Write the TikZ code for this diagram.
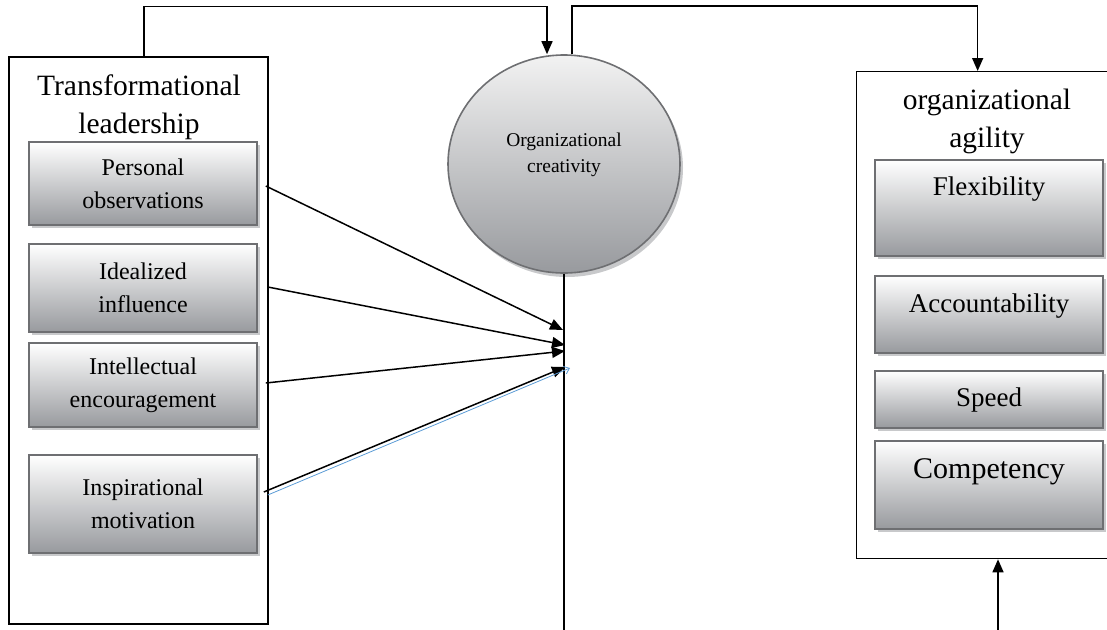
\documentclass[tikz,border=0pt]{standalone}
\usepackage{fontspec}
\setmainfont{Liberation Serif}
\usetikzlibrary{arrows.meta,shapes.geometric,shadows}

\definecolor{boxline}{RGB}{110,111,114}
\definecolor{boxbot}{RGB}{152,154,158}
\definecolor{circtop}{RGB}{242,242,242}
\definecolor{shad}{RGB}{200,201,203}
\definecolor{bluel}{RGB}{91,155,213}

\begin{document}
\begin{tikzpicture}[x=1pt,y=-1pt,
  outerbox/.style={draw=black,line width=1.3pt,inner sep=0pt},
  subbox/.style={draw=boxline,line width=1.6pt,top color=white,bottom color=boxbot,
    inner sep=0pt,minimum width=228pt,
    drop shadow={shadow xshift=3pt,shadow yshift=-3pt,fill=shad,opacity=1}},
  lefttext/.style={font=\fontsize{24}{33}\selectfont,align=center},
  titletext/.style={font=\fontsize{29.5}{38}\selectfont,align=center,inner sep=0pt,anchor=north},
  conn/.style={draw=black,line width=1.5pt},
  tip/.style={-{Triangle[length=13pt,width=11pt]}},
]
\useasboundingbox (0,0) rectangle (1107,629);
\clip (0,0) rectangle (1107,629);

% left group
\node[outerbox,minimum width=259pt,minimum height=567pt] (tl) at (138.5,340.5) {};
\node[titletext] (tlt) at (139,75) {Transformational\\leadership};
\node[subbox,lefttext,minimum height=83pt] (po) at (143,183.5) {Personal\\observations};
\node[subbox,lefttext,minimum height=88pt] (ii) at (143,288) {Idealized\\influence};
\node[subbox,lefttext,minimum height=84pt] (ie) at (143,385) {Intellectual\\encouragement};
\node[subbox,lefttext,minimum height=98pt] (im) at (143,504) {Inspirational\\motivation};

% circle
\node[ellipse,draw=boxline,line width=1.6pt,top color=circtop,bottom color=boxbot,
  minimum width=232pt,minimum height=218pt,inner sep=0pt,
  drop shadow={shadow xshift=3pt,shadow yshift=-4pt,fill=shad,opacity=1},
  label={[font=\fontsize{19.5}{26}\selectfont,align=center,yshift=9pt]center:Organizational\\creativity}]
  (oc) at (564,164) {};

% right group
\node[outerbox,minimum width=256pt,minimum height=487pt,anchor=north west] (ag) at (856,71) {};
\node[titletext] (agt) at (987,89) {organizational\\agility};
\node[subbox,anchor=north,font=\fontsize{27}{32}\selectfont,text height=36pt,text depth=60pt] (fl) at (989,159) {Flexibility};
\node[subbox,anchor=north,font=\fontsize{27}{32}\selectfont,text height=37pt,text depth=40pt] (ac) at (989,275) {Accountability};
\node[subbox,anchor=north,font=\fontsize{27}{32}\selectfont,text height=36pt,text depth=21pt] (sp) at (989,370) {Speed};
\node[subbox,anchor=north,font=\fontsize{30}{34}\selectfont,text height=38pt,text depth=50pt] (co) at (989,440) {Competency};

% arrow targets on the central line
\coordinate (h1) at (563,330);
\coordinate (h2) at (565,345);
\coordinate (h3) at (565,351);
\coordinate (h4) at (565,367);
\coordinate (hb) at (570,368);
\coordinate (vb) at (565,640);
\coordinate (ab) at (998,640);

% connectors
\draw[conn,tip] ([xshift=5.5pt]tl.north) -- ++(0,-50) -| ([xshift=-17pt]oc.north);
\draw[conn,tip] ([xshift=8pt]oc.north) -- ++(0,-48) -| ([xshift=-7pt]ag.north);
\draw[conn] (oc.south) -- (oc.south |- vb);
\draw[conn,tip] (ab) -- (ab |- ag.south);

\draw[conn,tip] ([xshift=8pt,yshift=-2.5pt]po.east) -- (h1);
\draw[conn,tip] ([xshift=10pt,yshift=1pt]ii.east) -- (h2);
\draw[conn,tip] ([xshift=8pt,yshift=2pt]ie.east) -- (h3);
\draw[conn,tip] ([xshift=6pt,yshift=12pt]im.east) -- (h4);
\draw[bluel,line width=0.8pt,-{Straight Barb[length=5pt,width=8pt]}] ([xshift=10pt,yshift=9pt]im.east) -- (hb);
\end{tikzpicture}
\end{document}
